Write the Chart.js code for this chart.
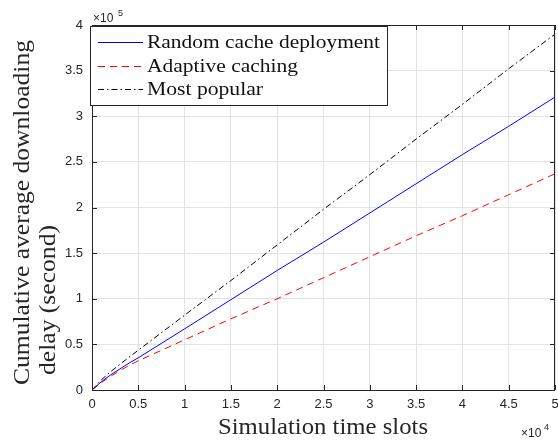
<!DOCTYPE html>
<html>
<head>
<meta charset="utf-8">
<script src="https://cdn.jsdelivr.net/npm/chart.js@4"></script>
<style>
html,body{margin:0;padding:0;background:#fff;}
#wrap{width:558px;height:441px;position:relative;}
</style>
</head>
<body>
<div id="wrap"><canvas id="c" width="558" height="441"></canvas></div>
<script>
// ---- data ----
const timeSlots = [0, 1000, 2000, 3000, 4000, 5000, 10000, 15000, 20000, 25000, 30000, 35000, 40000, 45000, 50000];
const randomCache = [0, 9000, 16500, 23000, 29500, 35300, 67000, 99000, 131000, 162000, 194000, 226000, 258000, 289000, 321000];
const adaptiveCaching = [0, 8000, 15000, 21000, 27000, 32000, 55000, 78000, 100000, 123000, 146000, 169000, 191000, 214000, 237000];
const mostPopular = [0, 11000, 20000, 28000, 36000, 43600, 82000, 120000, 159000, 198000, 236000, 275000, 313000, 352000, 390000];
const seriesLabels = ['Random cache deployment', 'Adaptive caching', 'Most popular'];
const xTitle = 'Simulation time slots';
const yTitleLines = ['Cumulative average downloading', 'delay (second)'];
const xExponent = '4';
const yExponent = '5';

const AX = '#262626';

function pts(ys){ return timeSlots.map((x,i)=>({x:x, y:ys[i]})); }

function stretchedText(ctx, text, x, y, targetW){
  const w = ctx.measureText(text).width;
  const sx = targetW / w;
  ctx.save();
  ctx.translate(x, y);
  ctx.scale(sx, 1);
  ctx.fillText(text, 0, 0);
  ctx.restore();
}

const decor = {
  id: 'decor',
  afterDatasetsDraw(chart){
    const ctx = chart.ctx;
    const a = chart.chartArea;
    const xs = chart.scales.x, ys = chart.scales.y;
    ctx.save();
    // frame
    ctx.strokeStyle = AX;
    ctx.lineWidth = 1;
    ctx.strokeRect(Math.round(a.left)+0.5, Math.round(a.top)+0.5, Math.round(a.right)-Math.round(a.left)-1, Math.round(a.bottom)-Math.round(a.top));
    // inward tick marks
    const tl = 5;
    ctx.beginPath();
    xs.ticks.forEach(t=>{
      const px = Math.round(xs.getPixelForValue(t.value))+0.5;
      ctx.moveTo(px, a.bottom); ctx.lineTo(px, a.bottom - tl);
      ctx.moveTo(px, a.top); ctx.lineTo(px, a.top + tl);
    });
    ys.ticks.forEach(t=>{
      const py = Math.round(ys.getPixelForValue(t.value))+0.5;
      ctx.moveTo(a.left, py); ctx.lineTo(a.left + tl, py);
      ctx.moveTo(a.right, py); ctx.lineTo(a.right - tl, py);
    });
    ctx.stroke();

    // legend box
    const lx = 90.5, ly = 26.5, lw = 297, lh = 79;
    ctx.fillStyle = '#fff';
    ctx.fillRect(lx, ly, lw, lh);
    ctx.strokeStyle = AX;
    ctx.strokeRect(lx, ly, lw, lh);
    const rowsY = [42, 66, 89];
    const widths = [233, 151, 116];
    chart.data.datasets.forEach((ds, i)=>{
      ctx.save();
      ctx.strokeStyle = ds.borderColor;
      ctx.lineWidth = 1;
      ctx.setLineDash(ds.borderDash || []);
      ctx.beginPath();
      ctx.moveTo(98, rowsY[i]+0.5); ctx.lineTo(143, rowsY[i]+0.5);
      ctx.stroke();
      ctx.restore();
      ctx.fillStyle = '#111';
      ctx.font = '18.5px "Liberation Serif", serif';
      ctx.textAlign = 'left';
      ctx.textBaseline = 'alphabetic';
      stretchedText(ctx, ds.label, 147, rowsY[i] + 6, widths[i]);
    });

    // axis titles
    ctx.fillStyle = AX;
    ctx.font = '22.5px "Liberation Serif", serif';
    ctx.textAlign = 'left';
    ctx.textBaseline = 'alphabetic';
    stretchedText(ctx, xTitle, 218, 434, 210);

    ctx.font = '23.5px "Liberation Serif", serif';
    ctx.save();
    ctx.translate(28.5, 385);
    ctx.rotate(-Math.PI/2);
    stretchedText(ctx, yTitleLines[0], 0, 0, 345);
    ctx.restore();
    ctx.save();
    ctx.translate(55, 375);
    ctx.rotate(-Math.PI/2);
    stretchedText(ctx, yTitleLines[1], 0, 0, 150);
    ctx.restore();

    // exponents
    ctx.fillStyle = AX;
    ctx.font = '12px "Liberation Sans", Arial, sans-serif';
    ctx.textAlign = 'left';
    ctx.textBaseline = 'alphabetic';
    ctx.fillText('\u00d710', 93, 22);
    ctx.font = '9px "Liberation Sans", Arial, sans-serif';
    ctx.fillText(yExponent, 118, 16);
    ctx.font = '12px "Liberation Sans", Arial, sans-serif';
    ctx.fillText('\u00d710', 521, 437);
    ctx.font = '9px "Liberation Sans", Arial, sans-serif';
    ctx.fillText(xExponent, 544, 430);
    ctx.restore();
  }
};

new Chart(document.getElementById('c'), {
  type: 'line',
  data: {
    datasets: [
      { label: seriesLabels[0], data: pts(randomCache), borderColor: '#0000ff', borderWidth: 1, pointRadius: 0, fill: false, tension: 0 },
      { label: seriesLabels[1], data: pts(adaptiveCaching), borderColor: '#ff0000', borderWidth: 1, borderDash: [7,5], pointRadius: 0, fill: false, tension: 0 },
      { label: seriesLabels[2], data: pts(mostPopular), borderColor: '#000000', borderWidth: 1, borderDash: [6,3,1.5,3], pointRadius: 0, fill: false, tension: 0 }
    ]
  },
  options: {
    responsive: false,
    animation: false,
    devicePixelRatio: 1,
    layout: { padding: { left: 0, right: 3, top: 25, bottom: 0 } },
    plugins: { legend: { display: false }, tooltip: { enabled: false } },
    scales: {
      x: {
        type: 'linear', min: 0, max: 50000,
        afterFit(s){ s.height = 51; s.paddingLeft = 0; s.paddingRight = 0; },
        border: { display: false },
        grid: { color: '#e3e3e3', lineWidth: 1, drawTicks: false },
        ticks: {
          stepSize: 5000, padding: 7, color: AX,
          font: { family: '"Liberation Sans", Arial, sans-serif', size: 13 },
          maxRotation: 0, autoSkip: false,
          callback: v => String(v/1e4)
        }
      },
      y: {
        type: 'linear', min: 0, max: 400000,
        afterFit(s){ s.width = 92; s.paddingTop = 0; s.paddingBottom = 0; },
        border: { display: false },
        grid: { color: '#e3e3e3', lineWidth: 1, drawTicks: false },
        ticks: {
          stepSize: 50000, padding: 9, color: AX,
          font: { family: '"Liberation Sans", Arial, sans-serif', size: 13 },
          autoSkip: false,
          callback: v => String(v/1e5)
        }
      }
    }
  },
  plugins: [decor]
});
</script>
</body>
</html>
